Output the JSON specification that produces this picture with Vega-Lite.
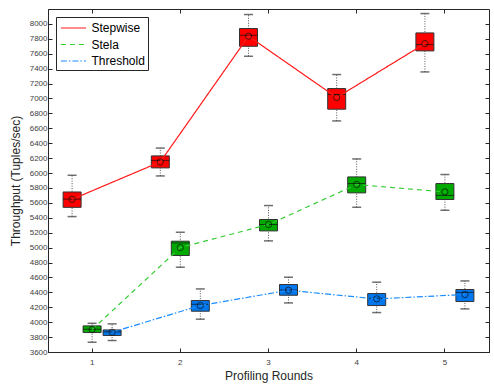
{
  "$schema": "https://vega.github.io/schema/vega-lite/v6.json",
  "width": 441,
  "height": 343,
  "autosize": {"type": "none"},
  "padding": {"left": 48, "top": 9, "right": 5, "bottom": 33},
  "background": "white",
  "config": {
    "font": "Liberation Sans",
    "view": {"stroke": "#262626", "strokeWidth": 1},
    "axis": {"grid": false, "domainColor": "#262626", "tickColor": "#262626", "labelColor": "#404040", "labelFontSize": 8, "titleFontSize": 12, "titleFontWeight": "normal", "titleColor": "#262626", "tickSize": -4, "domainWidth": 1},
    "legend": {"title": null, "orient": "top-left", "offset": 8, "padding": 3, "strokeColor": "#262626", "fillColor": "white", "labelFontSize": 12, "labelColor": "#000000", "symbolType": "M-1.8,0H1.8", "symbolSize": 196, "symbolOffset": 6.5, "symbolStrokeWidth": 1.2, "rowPadding": 2.5, "labelOffset": 10}
  },
  "data": {"values": [
    {"series": "Stepwise", "round": 1, "lo": 5416, "q1": 5540, "med": 5650, "q3": 5746, "hi": 5970, "mean": 5648},
    {"series": "Stepwise", "round": 2, "lo": 5961, "q1": 6069, "med": 6170, "q3": 6230, "hi": 6335, "mean": 6149},
    {"series": "Stepwise", "round": 3, "lo": 7566, "q1": 7700, "med": 7848, "q3": 7938, "hi": 8126, "mean": 7835},
    {"series": "Stepwise", "round": 4, "lo": 6699, "q1": 6856, "med": 7053, "q3": 7133, "hi": 7321, "mean": 7013},
    {"series": "Stepwise", "round": 5, "lo": 7356, "q1": 7638, "med": 7723, "q3": 7879, "hi": 8139, "mean": 7736},
    {"series": "Stela", "round": 1, "lo": 3731, "q1": 3861, "med": 3905, "q3": 3950, "hi": 3985, "mean": 3901},
    {"series": "Stela", "round": 2, "lo": 4737, "q1": 4894, "med": 5063, "q3": 5086, "hi": 5206, "mean": 5001},
    {"series": "Stela", "round": 3, "lo": 5090, "q1": 5224, "med": 5310, "q3": 5377, "hi": 5564, "mean": 5310},
    {"series": "Stela", "round": 4, "lo": 5541, "q1": 5734, "med": 5859, "q3": 5948, "hi": 6189, "mean": 5846},
    {"series": "Stela", "round": 5, "lo": 5501, "q1": 5645, "med": 5700, "q3": 5859, "hi": 5980, "mean": 5747},
    {"series": "Threshold", "round": 1, "lo": 3754, "q1": 3821, "med": 3870, "q3": 3896, "hi": 3977, "mean": 3865},
    {"series": "Threshold", "round": 2, "lo": 4040, "q1": 4147, "med": 4240, "q3": 4290, "hi": 4446, "mean": 4223},
    {"series": "Threshold", "round": 3, "lo": 4258, "q1": 4361, "med": 4430, "q3": 4505, "hi": 4603, "mean": 4428},
    {"series": "Threshold", "round": 4, "lo": 4129, "q1": 4223, "med": 4320, "q3": 4384, "hi": 4536, "mean": 4312},
    {"series": "Threshold", "round": 5, "lo": 4178, "q1": 4277, "med": 4400, "q3": 4438, "hi": 4553, "mean": 4371}
  ]},
  "encoding": {
    "x": {"field": "round", "type": "ordinal", "scale": {"paddingInner": 0, "paddingOuter": 0}, "axis": null},
    "xOffset": {"field": "series", "type": "nominal", "sort": ["Stepwise", "Stela", "Threshold"], "scale": {"paddingInner": 0.1, "paddingOuter": 0.755}}
  },
  "layer": [
    {
      "mark": {"type": "rule", "color": "#555555", "strokeWidth": 1, "strokeDash": [1, 1.5]},
      "encoding": {
        "x": {"field": "round", "type": "ordinal", "axis": {"orient": "bottom", "title": "Profiling Rounds", "labelAngle": 0, "labelPadding": 10, "titlePadding": 4}},
        "y": {"field": "lo", "type": "quantitative", "scale": {"domain": [3600, 8200], "nice": false, "zero": false}, "axis": {"orient": "left", "title": "Throughput (Tuples/sec)", "format": "d", "values": [3600, 3800, 4000, 4200, 4400, 4600, 4800, 5000, 5200, 5400, 5600, 5800, 6000, 6200, 6400, 6600, 6800, 7000, 7200, 7400, 7600, 7800, 8000], "labelPadding": 5, "titlePadding": 7}},
        "y2": {"field": "hi"}
      }
    },
    {
      "mark": {"type": "tick", "color": "#333333", "size": 9, "thickness": 1.5},
      "encoding": {
        "x": {"field": "round", "type": "ordinal", "axis": {"orient": "top", "labels": false, "title": null, "domain": false}},
        "y": {"field": "hi", "type": "quantitative", "axis": {"orient": "right", "labels": false, "title": null, "domain": false, "values": [3600, 3800, 4000, 4200, 4400, 4600, 4800, 5000, 5200, 5400, 5600, 5800, 6000, 6200, 6400, 6600, 6800, 7000, 7200, 7400, 7600, 7800, 8000]}}
      }
    },
    {
      "mark": {"type": "tick", "color": "#333333", "size": 9, "thickness": 1.5},
      "encoding": {"y": {"field": "lo", "type": "quantitative", "axis": null}}
    },
    {
      "mark": {"type": "bar", "stroke": "#333333", "strokeWidth": 1},
      "encoding": {
        "y": {"field": "q1", "type": "quantitative", "axis": null},
        "y2": {"field": "q3"},
        "fill": {"field": "series", "type": "nominal", "scale": {"domain": ["Stepwise", "Stela", "Threshold"], "range": ["#ff0000", "#00aa00", "#0077ee"]}}
      }
    },
    {
      "mark": {"type": "tick", "color": "#111111", "size": 18, "thickness": 1},
      "encoding": {"y": {"field": "med", "type": "quantitative", "axis": null}}
    },
    {
      "mark": {"type": "line", "strokeWidth": 1.2},
      "encoding": {
        "y": {"field": "mean", "type": "quantitative", "axis": null},
        "stroke": {"field": "series", "type": "nominal", "scale": {"domain": ["Stepwise", "Stela", "Threshold"], "range": ["#ff1a1a", "#33cc33", "#1a8cff"]}},
        "strokeDash": {"field": "series", "type": "nominal", "scale": {"domain": ["Stepwise", "Stela", "Threshold"], "range": [[1, 0], [5, 4], [6, 2, 1.5, 2]]}}
      }
    },
    {
      "mark": {"type": "point", "shape": "circle", "filled": false, "color": "#111111", "size": 40, "strokeWidth": 1},
      "encoding": {"y": {"field": "mean", "type": "quantitative", "axis": null}}
    }
  ],
  "resolve": {"axis": {"x": "independent", "y": "independent"}}
}
